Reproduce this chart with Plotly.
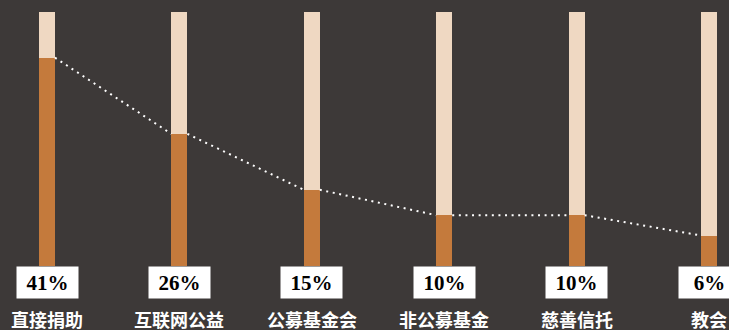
import plotly.graph_objects as go

categories = ["直接捐助", "互联网公益", "公募基金会", "非公募基金", "慈善信托", "教会"]
values = [41, 26, 15, 10, 10, 6]
value_labels = ["41%", "26%", "15%", "10%", "10%", "6%"]
scale_max = 50

BG = "#3d3938"
LIGHT = "#efd8c2"
ORANGE = "#c47a3c"
BAR_W = 0.121

xs = list(range(len(categories)))

fig = go.Figure()
fig.add_trace(go.Bar(x=xs, y=[scale_max] * len(xs), width=BAR_W, marker=dict(color=LIGHT, line=dict(width=0)),
                     hoverinfo="skip", showlegend=False))
fig.add_trace(go.Bar(x=xs, y=values, width=BAR_W, marker=dict(color=ORANGE, line=dict(width=0)),
                     showlegend=False))

# dotted connector between bar tops (edge to edge)
lx, ly = [], []
hw = BAR_W / 2
for i in range(len(xs) - 1):
    lx += [xs[i] + hw, xs[i + 1] - hw, None]
    ly += [values[i], values[i + 1], None]
fig.add_trace(go.Scatter(x=lx, y=ly, mode="lines", line=dict(color="white", width=2, dash="2px,4.6px"),
                         hoverinfo="skip", showlegend=False))

for i, c in enumerate(categories):
    fig.add_annotation(x=xs[i], y=-3.25, xref="x", yref="y", text="<b>" + value_labels[i] + "</b>", showarrow=False,
                       bgcolor="white", width=61, height=31, borderpad=0, xanchor="center", yanchor="middle",
                       font=dict(family="Liberation Serif", size=21, color="black"))
    fig.add_annotation(x=xs[i], y=-7.4, xref="x", yref="y", text="<b>" + c + "</b>", showarrow=False,
                       xanchor="center", yanchor="top",
                       font=dict(family="Noto Sans CJK SC", size=18, color="white"))

fig.update_layout(
    width=729, height=330,
    margin=dict(l=0, r=0, t=0, b=0),
    paper_bgcolor=BG, plot_bgcolor=BG,
    barmode="overlay", bargap=0,
    xaxis=dict(range=[-0.355, 5.151], visible=False, fixedrange=True),
    yaxis=dict(range=[-12.6, 52.36], visible=False, fixedrange=True),
)
fig.write_html("out.html", config={"displayModeBar": False},
               post_script="document.body.style.margin='0';document.body.style.overflow='hidden';document.body.style.background='#3d3938';")
